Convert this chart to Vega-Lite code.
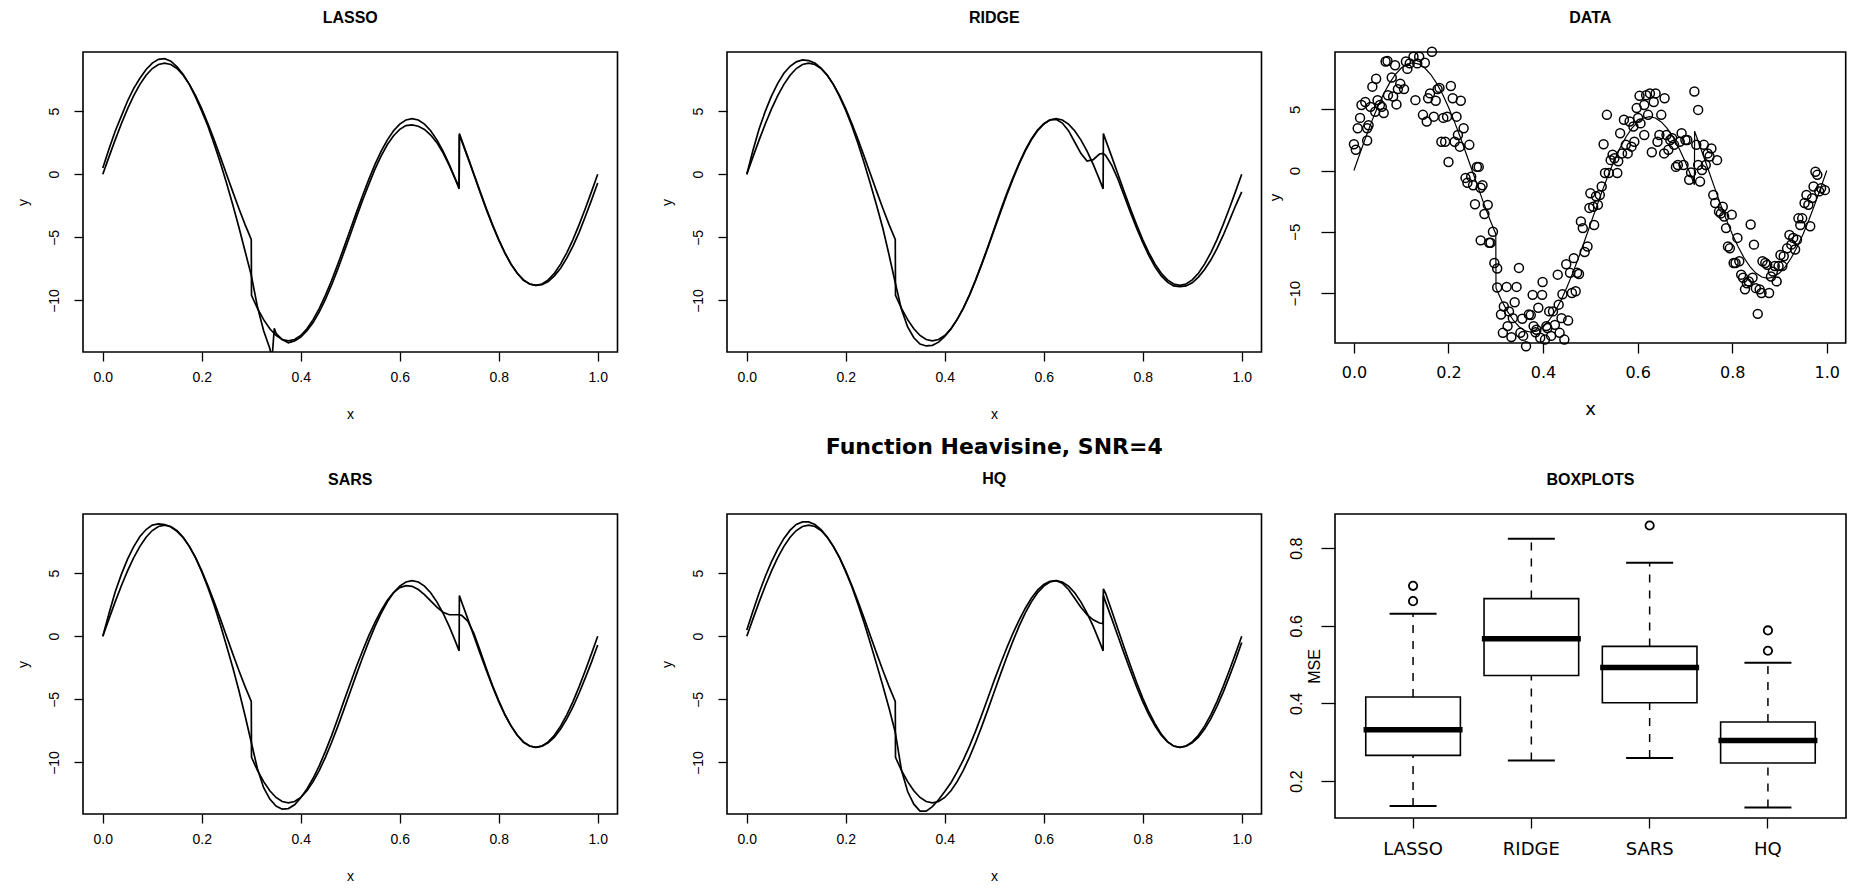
{
"$schema":"https://vega.github.io/schema/vega-lite/v6.json",
"background":"white",
"padding":{"left":15,"top":9,"right":0,"bottom":0},
"config":{
 "view":{"stroke":"black","strokeWidth":1.6},
 "axis":{"domain":false,"grid":false,"tickColor":"black","tickWidth":1.3,"labelColor":"black","titleColor":"black","labelFont":"Liberation Sans","titleFont":"Liberation Sans","titleFontWeight":"normal","labelFontSize":14,"titleFontSize":14,"labelFlush":false,"labelOverlap":false,"labelBound":false},
 "title":{"font":"Liberation Sans","fontSize":16,"fontWeight":"bold","color":"black","frame":"group","anchor":"middle","offset":26}
},
"datasets":{
"truth":[{"x":0,"y":0},{"x":0.0125,"y":1.376},{"x":0.025,"y":2.719},{"x":0.0375,"y":3.995},{"x":0.05,"y":5.173},{"x":0.0625,"y":6.223},{"x":0.075,"y":7.119},{"x":0.0875,"y":7.841},{"x":0.1,"y":8.37},{"x":0.1125,"y":8.692},{"x":0.125,"y":8.8},{"x":0.1375,"y":8.692},{"x":0.15,"y":8.37},{"x":0.1625,"y":7.841},{"x":0.175,"y":7.119},{"x":0.1875,"y":6.223},{"x":0.2,"y":5.173},{"x":0.2125,"y":3.995},{"x":0.225,"y":2.719},{"x":0.2375,"y":1.376},{"x":0.25,"y":0},{"x":0.2625,"y":-1.376},{"x":0.275,"y":-2.719},{"x":0.2875,"y":-3.995},{"x":0.3,"y":-5.173},{"x":0.3005,"y":-9.6},{"x":0.3125,"y":-10.623},{"x":0.325,"y":-11.519},{"x":0.3375,"y":-12.241},{"x":0.35,"y":-12.77},{"x":0.3625,"y":-13.092},{"x":0.375,"y":-13.2},{"x":0.3875,"y":-13.092},{"x":0.4,"y":-12.77},{"x":0.4125,"y":-12.241},{"x":0.425,"y":-11.519},{"x":0.4375,"y":-10.623},{"x":0.45,"y":-9.573},{"x":0.4625,"y":-8.395},{"x":0.475,"y":-7.119},{"x":0.4875,"y":-5.776},{"x":0.5,"y":-4.4},{"x":0.5125,"y":-3.024},{"x":0.525,"y":-1.681},{"x":0.5375,"y":-0.405},{"x":0.55,"y":0.773},{"x":0.5625,"y":1.823},{"x":0.575,"y":2.719},{"x":0.5875,"y":3.441},{"x":0.6,"y":3.97},{"x":0.6125,"y":4.292},{"x":0.625,"y":4.4},{"x":0.6375,"y":4.292},{"x":0.65,"y":3.97},{"x":0.6625,"y":3.441},{"x":0.675,"y":2.719},{"x":0.6875,"y":1.823},{"x":0.7,"y":0.773},{"x":0.7125,"y":-0.405},{"x":0.72,"y":-1.16},{"x":0.7205,"y":3.22},{"x":0.725,"y":2.719},{"x":0.7375,"y":1.376},{"x":0.75,"y":0},{"x":0.7625,"y":-1.376},{"x":0.775,"y":-2.719},{"x":0.7875,"y":-3.995},{"x":0.8,"y":-5.173},{"x":0.8125,"y":-6.223},{"x":0.825,"y":-7.119},{"x":0.8375,"y":-7.841},{"x":0.85,"y":-8.37},{"x":0.8625,"y":-8.692},{"x":0.875,"y":-8.8},{"x":0.8875,"y":-8.692},{"x":0.9,"y":-8.37},{"x":0.9125,"y":-7.841},{"x":0.925,"y":-7.119},{"x":0.9375,"y":-6.223},{"x":0.95,"y":-5.173},{"x":0.9625,"y":-3.995},{"x":0.975,"y":-2.719},{"x":0.9875,"y":-1.376},{"x":1,"y":0}],
"est":[
{"p":"LASSO","x":0,"y":0.5},{"p":"LASSO","x":0.0125,"y":2.0},{"p":"LASSO","x":0.025,"y":3.4},{"p":"LASSO","x":0.0375,"y":4.6},{"p":"LASSO","x":0.05,"y":5.8},{"p":"LASSO","x":0.0625,"y":6.8},{"p":"LASSO","x":0.075,"y":7.6},{"p":"LASSO","x":0.0875,"y":8.3},{"p":"LASSO","x":0.1,"y":8.8},{"p":"LASSO","x":0.1125,"y":9.1},{"p":"LASSO","x":0.125,"y":9.15},{"p":"LASSO","x":0.1375,"y":8.95},{"p":"LASSO","x":0.15,"y":8.5},{"p":"LASSO","x":0.1625,"y":7.9},{"p":"LASSO","x":0.175,"y":7.1},{"p":"LASSO","x":0.1875,"y":6.1},{"p":"LASSO","x":0.2,"y":5.0},{"p":"LASSO","x":0.2125,"y":3.8},{"p":"LASSO","x":0.225,"y":2.4},{"p":"LASSO","x":0.2375,"y":0.9},{"p":"LASSO","x":0.25,"y":-0.7},{"p":"LASSO","x":0.2625,"y":-2.4},{"p":"LASSO","x":0.275,"y":-4.2},{"p":"LASSO","x":0.2875,"y":-6.1},{"p":"LASSO","x":0.3,"y":-8.0},{"p":"LASSO","x":0.3125,"y":-10.5},{"p":"LASSO","x":0.325,"y":-12.4},{"p":"LASSO","x":0.3375,"y":-13.8},{"p":"LASSO","x":0.342,"y":-14.6},{"p":"LASSO","x":0.3465,"y":-12.2},{"p":"LASSO","x":0.35,"y":-12.6},{"p":"LASSO","x":0.3625,"y":-13.1},{"p":"LASSO","x":0.375,"y":-13.35},{"p":"LASSO","x":0.3875,"y":-13.2},{"p":"LASSO","x":0.4,"y":-12.9},{"p":"LASSO","x":0.4125,"y":-12.4},{"p":"LASSO","x":0.425,"y":-11.75},{"p":"LASSO","x":0.4375,"y":-10.9},{"p":"LASSO","x":0.45,"y":-9.9},{"p":"LASSO","x":0.4625,"y":-8.75},{"p":"LASSO","x":0.475,"y":-7.5},{"p":"LASSO","x":0.4875,"y":-6.15},{"p":"LASSO","x":0.5,"y":-4.8},{"p":"LASSO","x":0.5125,"y":-3.4},{"p":"LASSO","x":0.525,"y":-2.05},{"p":"LASSO","x":0.5375,"y":-0.8},{"p":"LASSO","x":0.55,"y":0.4},{"p":"LASSO","x":0.5625,"y":1.45},{"p":"LASSO","x":0.575,"y":2.35},{"p":"LASSO","x":0.5875,"y":3.05},{"p":"LASSO","x":0.6,"y":3.55},{"p":"LASSO","x":0.6125,"y":3.85},{"p":"LASSO","x":0.625,"y":3.9},{"p":"LASSO","x":0.6375,"y":3.8},{"p":"LASSO","x":0.65,"y":3.55},{"p":"LASSO","x":0.6625,"y":3.1},{"p":"LASSO","x":0.675,"y":2.5},{"p":"LASSO","x":0.6875,"y":1.7},{"p":"LASSO","x":0.7,"y":0.7},{"p":"LASSO","x":0.7125,"y":-0.4},{"p":"LASSO","x":0.72,"y":-1.0},{"p":"LASSO","x":0.7205,"y":3.1},{"p":"LASSO","x":0.725,"y":2.65},{"p":"LASSO","x":0.7375,"y":1.3},{"p":"LASSO","x":0.75,"y":-0.05},{"p":"LASSO","x":0.7625,"y":-1.45},{"p":"LASSO","x":0.775,"y":-2.8},{"p":"LASSO","x":0.7875,"y":-4.05},{"p":"LASSO","x":0.8,"y":-5.2},{"p":"LASSO","x":0.8125,"y":-6.25},{"p":"LASSO","x":0.825,"y":-7.15},{"p":"LASSO","x":0.8375,"y":-7.85},{"p":"LASSO","x":0.85,"y":-8.4},{"p":"LASSO","x":0.8625,"y":-8.7},{"p":"LASSO","x":0.875,"y":-8.8},{"p":"LASSO","x":0.8875,"y":-8.75},{"p":"LASSO","x":0.9,"y":-8.5},{"p":"LASSO","x":0.9125,"y":-8.05},{"p":"LASSO","x":0.925,"y":-7.45},{"p":"LASSO","x":0.9375,"y":-6.65},{"p":"LASSO","x":0.95,"y":-5.7},{"p":"LASSO","x":0.9625,"y":-4.6},{"p":"LASSO","x":0.975,"y":-3.35},{"p":"LASSO","x":0.9875,"y":-2.05},{"p":"LASSO","x":1,"y":-0.7},
{"p":"RIDGE","x":0,"y":0.0},{"p":"RIDGE","x":0.0125,"y":1.9},{"p":"RIDGE","x":0.025,"y":3.6},{"p":"RIDGE","x":0.0375,"y":5.0},{"p":"RIDGE","x":0.05,"y":6.2},{"p":"RIDGE","x":0.0625,"y":7.2},{"p":"RIDGE","x":0.075,"y":8.0},{"p":"RIDGE","x":0.0875,"y":8.55},{"p":"RIDGE","x":0.1,"y":8.9},{"p":"RIDGE","x":0.1125,"y":9.05},{"p":"RIDGE","x":0.125,"y":9.0},{"p":"RIDGE","x":0.1375,"y":8.8},{"p":"RIDGE","x":0.15,"y":8.4},{"p":"RIDGE","x":0.1625,"y":7.85},{"p":"RIDGE","x":0.175,"y":7.1},{"p":"RIDGE","x":0.1875,"y":6.15},{"p":"RIDGE","x":0.2,"y":5.05},{"p":"RIDGE","x":0.2125,"y":3.8},{"p":"RIDGE","x":0.225,"y":2.4},{"p":"RIDGE","x":0.2375,"y":0.85},{"p":"RIDGE","x":0.25,"y":-0.8},{"p":"RIDGE","x":0.2625,"y":-2.5},{"p":"RIDGE","x":0.275,"y":-4.3},{"p":"RIDGE","x":0.2875,"y":-6.4},{"p":"RIDGE","x":0.3,"y":-8.6},{"p":"RIDGE","x":0.3125,"y":-10.7},{"p":"RIDGE","x":0.325,"y":-12.1},{"p":"RIDGE","x":0.3375,"y":-12.95},{"p":"RIDGE","x":0.35,"y":-13.45},{"p":"RIDGE","x":0.3625,"y":-13.6},{"p":"RIDGE","x":0.375,"y":-13.55},{"p":"RIDGE","x":0.3875,"y":-13.3},{"p":"RIDGE","x":0.4,"y":-12.85},{"p":"RIDGE","x":0.4125,"y":-12.25},{"p":"RIDGE","x":0.425,"y":-11.5},{"p":"RIDGE","x":0.4375,"y":-10.6},{"p":"RIDGE","x":0.45,"y":-9.55},{"p":"RIDGE","x":0.4625,"y":-8.35},{"p":"RIDGE","x":0.475,"y":-7.05},{"p":"RIDGE","x":0.4875,"y":-5.7},{"p":"RIDGE","x":0.5,"y":-4.3},{"p":"RIDGE","x":0.5125,"y":-2.9},{"p":"RIDGE","x":0.525,"y":-1.55},{"p":"RIDGE","x":0.5375,"y":-0.3},{"p":"RIDGE","x":0.55,"y":0.85},{"p":"RIDGE","x":0.5625,"y":1.9},{"p":"RIDGE","x":0.575,"y":2.8},{"p":"RIDGE","x":0.5875,"y":3.5},{"p":"RIDGE","x":0.6,"y":4.0},{"p":"RIDGE","x":0.6125,"y":4.3},{"p":"RIDGE","x":0.625,"y":4.35},{"p":"RIDGE","x":0.6375,"y":4.05},{"p":"RIDGE","x":0.65,"y":3.45},{"p":"RIDGE","x":0.6625,"y":2.55},{"p":"RIDGE","x":0.675,"y":1.65},{"p":"RIDGE","x":0.6875,"y":1.05},{"p":"RIDGE","x":0.7,"y":1.15},{"p":"RIDGE","x":0.7125,"y":1.6},{"p":"RIDGE","x":0.72,"y":1.65},{"p":"RIDGE","x":0.725,"y":1.5},{"p":"RIDGE","x":0.7375,"y":0.7},{"p":"RIDGE","x":0.75,"y":-0.4},{"p":"RIDGE","x":0.7625,"y":-1.7},{"p":"RIDGE","x":0.775,"y":-3.0},{"p":"RIDGE","x":0.7875,"y":-4.25},{"p":"RIDGE","x":0.8,"y":-5.4},{"p":"RIDGE","x":0.8125,"y":-6.45},{"p":"RIDGE","x":0.825,"y":-7.35},{"p":"RIDGE","x":0.8375,"y":-8.05},{"p":"RIDGE","x":0.85,"y":-8.55},{"p":"RIDGE","x":0.8625,"y":-8.85},{"p":"RIDGE","x":0.875,"y":-8.9},{"p":"RIDGE","x":0.8875,"y":-8.85},{"p":"RIDGE","x":0.9,"y":-8.6},{"p":"RIDGE","x":0.9125,"y":-8.15},{"p":"RIDGE","x":0.925,"y":-7.55},{"p":"RIDGE","x":0.9375,"y":-6.8},{"p":"RIDGE","x":0.95,"y":-5.9},{"p":"RIDGE","x":0.9625,"y":-4.85},{"p":"RIDGE","x":0.975,"y":-3.7},{"p":"RIDGE","x":0.9875,"y":-2.5},{"p":"RIDGE","x":1,"y":-1.4},
{"p":"SARS","x":0,"y":0.0},{"p":"SARS","x":0.0125,"y":1.8},{"p":"SARS","x":0.025,"y":3.5},{"p":"SARS","x":0.0375,"y":4.9},{"p":"SARS","x":0.05,"y":6.1},{"p":"SARS","x":0.0625,"y":7.1},{"p":"SARS","x":0.075,"y":7.9},{"p":"SARS","x":0.0875,"y":8.45},{"p":"SARS","x":0.1,"y":8.8},{"p":"SARS","x":0.1125,"y":8.9},{"p":"SARS","x":0.125,"y":8.85},{"p":"SARS","x":0.1375,"y":8.65},{"p":"SARS","x":0.15,"y":8.3},{"p":"SARS","x":0.1625,"y":7.8},{"p":"SARS","x":0.175,"y":7.1},{"p":"SARS","x":0.1875,"y":6.2},{"p":"SARS","x":0.2,"y":5.1},{"p":"SARS","x":0.2125,"y":3.85},{"p":"SARS","x":0.225,"y":2.45},{"p":"SARS","x":0.2375,"y":0.9},{"p":"SARS","x":0.25,"y":-0.75},{"p":"SARS","x":0.2625,"y":-2.45},{"p":"SARS","x":0.275,"y":-4.3},{"p":"SARS","x":0.2875,"y":-6.3},{"p":"SARS","x":0.3,"y":-8.4},{"p":"SARS","x":0.3125,"y":-10.5},{"p":"SARS","x":0.325,"y":-12.0},{"p":"SARS","x":0.3375,"y":-12.9},{"p":"SARS","x":0.35,"y":-13.45},{"p":"SARS","x":0.3625,"y":-13.7},{"p":"SARS","x":0.375,"y":-13.65},{"p":"SARS","x":0.3875,"y":-13.35},{"p":"SARS","x":0.4,"y":-12.8},{"p":"SARS","x":0.4125,"y":-12.1},{"p":"SARS","x":0.425,"y":-11.25},{"p":"SARS","x":0.4375,"y":-10.25},{"p":"SARS","x":0.45,"y":-9.1},{"p":"SARS","x":0.4625,"y":-7.85},{"p":"SARS","x":0.475,"y":-6.5},{"p":"SARS","x":0.4875,"y":-5.1},{"p":"SARS","x":0.5,"y":-3.75},{"p":"SARS","x":0.5125,"y":-2.4},{"p":"SARS","x":0.525,"y":-1.15},{"p":"SARS","x":0.5375,"y":0.05},{"p":"SARS","x":0.55,"y":1.1},{"p":"SARS","x":0.5625,"y":2.05},{"p":"SARS","x":0.575,"y":2.85},{"p":"SARS","x":0.5875,"y":3.45},{"p":"SARS","x":0.6,"y":3.85},{"p":"SARS","x":0.6125,"y":4.0},{"p":"SARS","x":0.625,"y":3.95},{"p":"SARS","x":0.6375,"y":3.7},{"p":"SARS","x":0.65,"y":3.3},{"p":"SARS","x":0.6625,"y":2.8},{"p":"SARS","x":0.675,"y":2.3},{"p":"SARS","x":0.6875,"y":1.9},{"p":"SARS","x":0.7,"y":1.7},{"p":"SARS","x":0.7125,"y":1.7},{"p":"SARS","x":0.72,"y":1.7},{"p":"SARS","x":0.725,"y":1.65},{"p":"SARS","x":0.7375,"y":1.2},{"p":"SARS","x":0.75,"y":0.2},{"p":"SARS","x":0.7625,"y":-1.15},{"p":"SARS","x":0.775,"y":-2.55},{"p":"SARS","x":0.7875,"y":-3.9},{"p":"SARS","x":0.8,"y":-5.1},{"p":"SARS","x":0.8125,"y":-6.2},{"p":"SARS","x":0.825,"y":-7.1},{"p":"SARS","x":0.8375,"y":-7.85},{"p":"SARS","x":0.85,"y":-8.4},{"p":"SARS","x":0.8625,"y":-8.7},{"p":"SARS","x":0.875,"y":-8.8},{"p":"SARS","x":0.8875,"y":-8.7},{"p":"SARS","x":0.9,"y":-8.45},{"p":"SARS","x":0.9125,"y":-8.0},{"p":"SARS","x":0.925,"y":-7.35},{"p":"SARS","x":0.9375,"y":-6.55},{"p":"SARS","x":0.95,"y":-5.6},{"p":"SARS","x":0.9625,"y":-4.5},{"p":"SARS","x":0.975,"y":-3.3},{"p":"SARS","x":0.9875,"y":-2.05},{"p":"SARS","x":1,"y":-0.7},
{"p":"HQ","x":0,"y":0.5},{"p":"HQ","x":0.0125,"y":2.0},{"p":"HQ","x":0.025,"y":3.45},{"p":"HQ","x":0.0375,"y":4.75},{"p":"HQ","x":0.05,"y":5.9},{"p":"HQ","x":0.0625,"y":6.9},{"p":"HQ","x":0.075,"y":7.75},{"p":"HQ","x":0.0875,"y":8.4},{"p":"HQ","x":0.1,"y":8.85},{"p":"HQ","x":0.1125,"y":9.05},{"p":"HQ","x":0.125,"y":9.05},{"p":"HQ","x":0.1375,"y":8.85},{"p":"HQ","x":0.15,"y":8.45},{"p":"HQ","x":0.1625,"y":7.85},{"p":"HQ","x":0.175,"y":7.1},{"p":"HQ","x":0.1875,"y":6.2},{"p":"HQ","x":0.2,"y":5.1},{"p":"HQ","x":0.2125,"y":3.9},{"p":"HQ","x":0.225,"y":2.5},{"p":"HQ","x":0.2375,"y":1.0},{"p":"HQ","x":0.25,"y":-0.6},{"p":"HQ","x":0.2625,"y":-2.25},{"p":"HQ","x":0.275,"y":-3.95},{"p":"HQ","x":0.2875,"y":-5.7},{"p":"HQ","x":0.3,"y":-7.6},{"p":"HQ","x":0.3125,"y":-10.6},{"p":"HQ","x":0.325,"y":-12.3},{"p":"HQ","x":0.3375,"y":-13.3},{"p":"HQ","x":0.35,"y":-13.85},{"p":"HQ","x":0.3625,"y":-13.85},{"p":"HQ","x":0.375,"y":-13.5},{"p":"HQ","x":0.3875,"y":-12.95},{"p":"HQ","x":0.4,"y":-12.3},{"p":"HQ","x":0.4125,"y":-11.6},{"p":"HQ","x":0.425,"y":-10.75},{"p":"HQ","x":0.4375,"y":-9.8},{"p":"HQ","x":0.45,"y":-8.7},{"p":"HQ","x":0.4625,"y":-7.5},{"p":"HQ","x":0.475,"y":-6.2},{"p":"HQ","x":0.4875,"y":-4.85},{"p":"HQ","x":0.5,"y":-3.5},{"p":"HQ","x":0.5125,"y":-2.2},{"p":"HQ","x":0.525,"y":-0.95},{"p":"HQ","x":0.5375,"y":0.2},{"p":"HQ","x":0.55,"y":1.25},{"p":"HQ","x":0.5625,"y":2.2},{"p":"HQ","x":0.575,"y":3.0},{"p":"HQ","x":0.5875,"y":3.65},{"p":"HQ","x":0.6,"y":4.1},{"p":"HQ","x":0.6125,"y":4.35},{"p":"HQ","x":0.625,"y":4.4},{"p":"HQ","x":0.6375,"y":4.2},{"p":"HQ","x":0.65,"y":3.7},{"p":"HQ","x":0.6625,"y":3.0},{"p":"HQ","x":0.675,"y":2.3},{"p":"HQ","x":0.6875,"y":1.7},{"p":"HQ","x":0.7,"y":1.3},{"p":"HQ","x":0.7125,"y":1.05},{"p":"HQ","x":0.72,"y":1.0},{"p":"HQ","x":0.7205,"y":3.75},{"p":"HQ","x":0.725,"y":3.4},{"p":"HQ","x":0.7375,"y":2.0},{"p":"HQ","x":0.75,"y":0.55},{"p":"HQ","x":0.7625,"y":-0.9},{"p":"HQ","x":0.775,"y":-2.3},{"p":"HQ","x":0.7875,"y":-3.65},{"p":"HQ","x":0.8,"y":-4.9},{"p":"HQ","x":0.8125,"y":-6.0},{"p":"HQ","x":0.825,"y":-6.95},{"p":"HQ","x":0.8375,"y":-7.75},{"p":"HQ","x":0.85,"y":-8.35},{"p":"HQ","x":0.8625,"y":-8.7},{"p":"HQ","x":0.875,"y":-8.8},{"p":"HQ","x":0.8875,"y":-8.7},{"p":"HQ","x":0.9,"y":-8.45},{"p":"HQ","x":0.9125,"y":-8.0},{"p":"HQ","x":0.925,"y":-7.35},{"p":"HQ","x":0.9375,"y":-6.55},{"p":"HQ","x":0.95,"y":-5.55},{"p":"HQ","x":0.9625,"y":-4.45},{"p":"HQ","x":0.975,"y":-3.2},{"p":"HQ","x":0.9875,"y":-1.9},{"p":"HQ","x":1,"y":-0.5}
],
"pts":[{"x":0,"y":2.15},{"x":0.004,"y":1.7},{"x":0.008,"y":3.45},{"x":0.013,"y":4.3},{"x":0.016,"y":5.35},{"x":0.024,"y":5.6},{"x":0.028,"y":2.45},{"x":0.028,"y":3.45},{"x":0.031,"y":3.7},{"x":0.035,"y":5.2},{"x":0.039,"y":6.85},{"x":0.045,"y":4.8},{"x":0.047,"y":7.5},{"x":0.05,"y":5.75},{"x":0.055,"y":5.35},{"x":0.059,"y":5.2},{"x":0.063,"y":4.7},{"x":0.067,"y":8.9},{"x":0.071,"y":8.95},{"x":0.072,"y":6.15},{"x":0.08,"y":7.6},{"x":0.083,"y":6.05},{"x":0.087,"y":8.6},{"x":0.09,"y":5.4},{"x":0.093,"y":6.65},{"x":0.098,"y":7.1},{"x":0.106,"y":6.65},{"x":0.11,"y":8.9},{"x":0.113,"y":8.3},{"x":0.118,"y":8.75},{"x":0.126,"y":9.3},{"x":0.13,"y":5.75},{"x":0.134,"y":8.75},{"x":0.138,"y":9.3},{"x":0.146,"y":4.55},{"x":0.15,"y":8.8},{"x":0.154,"y":4.0},{"x":0.157,"y":5.9},{"x":0.161,"y":6.3},{"x":0.165,"y":9.7},{"x":0.169,"y":4.4},{"x":0.173,"y":5.7},{"x":0.177,"y":6.65},{"x":0.181,"y":6.75},{"x":0.185,"y":2.35},{"x":0.189,"y":4.3},{"x":0.193,"y":2.35},{"x":0.197,"y":4.4},{"x":0.2,"y":0.7},{"x":0.205,"y":6.9},{"x":0.209,"y":5.9},{"x":0.213,"y":2.35},{"x":0.217,"y":4.4},{"x":0.22,"y":2.9},{"x":0.224,"y":1.95},{"x":0.226,"y":5.7},{"x":0.232,"y":3.45},{"x":0.236,"y":-0.6},{"x":0.24,"y":-1.0},{"x":0.244,"y":2.1},{"x":0.248,"y":-0.5},{"x":0.252,"y":-1.2},{"x":0.256,"y":-2.75},{"x":0.26,"y":0.3},{"x":0.264,"y":0.3},{"x":0.268,"y":-1.4},{"x":0.272,"y":-1.2},{"x":0.268,"y":-5.7},{"x":0.276,"y":-3.55},{"x":0.283,"y":-2.8},{"x":0.286,"y":-5.9},{"x":0.289,"y":-5.9},{"x":0.294,"y":-5.0},{"x":0.297,"y":-7.55},{"x":0.303,"y":-8.0},{"x":0.303,"y":-9.55},{"x":0.311,"y":-11.75},{"x":0.315,"y":-13.25},{"x":0.317,"y":-11.1},{"x":0.323,"y":-9.5},{"x":0.325,"y":-12.7},{"x":0.328,"y":-11.5},{"x":0.333,"y":-13.6},{"x":0.336,"y":-12.05},{"x":0.34,"y":-10.75},{"x":0.344,"y":-9.5},{"x":0.349,"y":-7.95},{"x":0.352,"y":-13.25},{"x":0.356,"y":-12.1},{"x":0.358,"y":-13.5},{"x":0.364,"y":-14.35},{"x":0.37,"y":-11.75},{"x":0.374,"y":-11.8},{"x":0.378,"y":-10.15},{"x":0.38,"y":-12.7},{"x":0.384,"y":-13.2},{"x":0.386,"y":-13.0},{"x":0.39,"y":-11.2},{"x":0.394,"y":-13.65},{"x":0.398,"y":-10.15},{"x":0.399,"y":-9.1},{"x":0.404,"y":-13.8},{"x":0.407,"y":-12.7},{"x":0.409,"y":-12.85},{"x":0.413,"y":-11.5},{"x":0.417,"y":-13.5},{"x":0.421,"y":-11.5},{"x":0.425,"y":-12.6},{"x":0.431,"y":-8.5},{"x":0.433,"y":-10.95},{"x":0.435,"y":-13.25},{"x":0.439,"y":-12.05},{"x":0.441,"y":-10.1},{"x":0.445,"y":-13.8},{"x":0.449,"y":-7.65},{"x":0.453,"y":-12.25},{"x":0.457,"y":-8.35},{"x":0.461,"y":-10.0},{"x":0.465,"y":-7.15},{"x":0.469,"y":-9.85},{"x":0.472,"y":-8.35},{"x":0.476,"y":-8.45},{"x":0.48,"y":-4.15},{"x":0.484,"y":-4.7},{"x":0.488,"y":-6.65},{"x":0.494,"y":-6.2},{"x":0.498,"y":-3.05},{"x":0.5,"y":-1.85},{"x":0.506,"y":-2.95},{"x":0.508,"y":-4.45},{"x":0.512,"y":-2.1},{"x":0.516,"y":-2.8},{"x":0.52,"y":-2.0},{"x":0.524,"y":-1.3},{"x":0.528,"y":2.15},{"x":0.531,"y":-0.2},{"x":0.535,"y":4.55},{"x":0.539,"y":-0.2},{"x":0.543,"y":0.85},{"x":0.547,"y":1.3},{"x":0.551,"y":1.0},{"x":0.557,"y":-0.2},{"x":0.559,"y":0.75},{"x":0.563,"y":3.05},{"x":0.567,"y":1.4},{"x":0.571,"y":4.15},{"x":0.575,"y":2.1},{"x":0.579,"y":1.4},{"x":0.583,"y":4.0},{"x":0.587,"y":1.95},{"x":0.591,"y":3.6},{"x":0.593,"y":2.35},{"x":0.598,"y":5.1},{"x":0.601,"y":4.3},{"x":0.604,"y":6.1},{"x":0.606,"y":3.85},{"x":0.614,"y":2.9},{"x":0.614,"y":5.35},{"x":0.618,"y":6.15},{"x":0.622,"y":4.55},{"x":0.626,"y":6.3},{"x":0.63,"y":1.5},{"x":0.634,"y":5.6},{"x":0.638,"y":6.3},{"x":0.642,"y":2.35},{"x":0.646,"y":2.9},{"x":0.65,"y":4.55},{"x":0.656,"y":1.4},{"x":0.657,"y":5.9},{"x":0.661,"y":2.9},{"x":0.665,"y":1.7},{"x":0.669,"y":2.5},{"x":0.673,"y":2.65},{"x":0.677,"y":2.1},{"x":0.681,"y":0.3},{"x":0.685,"y":0.45},{"x":0.689,"y":2.35},{"x":0.693,"y":3.05},{"x":0.697,"y":0.45},{"x":0.701,"y":2.5},{"x":0.705,"y":2.5},{"x":0.709,"y":-0.75},{"x":0.713,"y":-0.15},{"x":0.72,"y":6.45},{"x":0.724,"y":2.1},{"x":0.728,"y":4.95},{"x":0.728,"y":0.45},{"x":0.732,"y":-0.9},{"x":0.736,"y":0.05},{"x":0.74,"y":2.1},{"x":0.744,"y":0.45},{"x":0.748,"y":1.4},{"x":0.752,"y":1.15},{"x":0.756,"y":1.8},{"x":0.76,"y":-2.0},{"x":0.764,"y":-2.65},{"x":0.768,"y":0.85},{"x":0.772,"y":-3.35},{"x":0.776,"y":-3.5},{"x":0.78,"y":-2.95},{"x":0.783,"y":-3.75},{"x":0.787,"y":-4.7},{"x":0.791,"y":-6.2},{"x":0.795,"y":-6.35},{"x":0.799,"y":-3.6},{"x":0.803,"y":-7.55},{"x":0.807,"y":-7.55},{"x":0.811,"y":-5.5},{"x":0.815,"y":-7.4},{"x":0.819,"y":-8.5},{"x":0.823,"y":-8.75},{"x":0.827,"y":-9.7},{"x":0.831,"y":-9.2},{"x":0.835,"y":-9.05},{"x":0.839,"y":-4.4},{"x":0.843,"y":-8.75},{"x":0.846,"y":-6.05},{"x":0.85,"y":-9.6},{"x":0.854,"y":-11.7},{"x":0.858,"y":-9.7},{"x":0.862,"y":-10.0},{"x":0.864,"y":-7.4},{"x":0.87,"y":-7.55},{"x":0.874,"y":-7.7},{"x":0.878,"y":-10.0},{"x":0.882,"y":-8.65},{"x":0.886,"y":-8.25},{"x":0.89,"y":-7.8},{"x":0.894,"y":-9.05},{"x":0.898,"y":-7.8},{"x":0.902,"y":-6.9},{"x":0.906,"y":-7.8},{"x":0.909,"y":-7.0},{"x":0.916,"y":-6.35},{"x":0.921,"y":-5.25},{"x":0.925,"y":-6.05},{"x":0.929,"y":-5.5},{"x":0.933,"y":-6.45},{"x":0.937,"y":-5.65},{"x":0.94,"y":-3.9},{"x":0.944,"y":-4.45},{"x":0.948,"y":-3.9},{"x":0.953,"y":-2.65},{"x":0.957,"y":-2.0},{"x":0.961,"y":-2.8},{"x":0.965,"y":-4.55},{"x":0.969,"y":-2.25},{"x":0.972,"y":-1.3},{"x":0.976,"y":-0.1},{"x":0.98,"y":-0.35},{"x":0.984,"y":-1.7},{"x":0.988,"y":-1.45},{"x":0.996,"y":-1.6}],
"box":[{"m":"LASSO","lo":0.1356,"q1":0.266,"med":0.332,"q3":0.4163,"hi":0.631},{"m":"RIDGE","lo":0.253,"q1":0.472,"med":0.5667,"q3":0.67,"hi":0.824},{"m":"SARS","lo":0.259,"q1":0.4017,"med":0.4927,"q3":0.5468,"hi":0.7622},{"m":"HQ","lo":0.132,"q1":0.2464,"med":0.3047,"q3":0.352,"hi":0.505}],
"out":[{"m":"LASSO","v":0.6635},{"m":"LASSO","v":0.703},{"m":"SARS","v":0.8584},{"m":"HQ","v":0.5356},{"m":"HQ","v":0.588}],
"none":[]
},
"columns":5,
"align":"none",
"bounds":"flush",
"spacing":{"row":162,"column":0},
"concat":[
 {"width":534.5,"height":300,"title":"LASSO",
  "encoding":{"x":{"field":"x","type":"quantitative","scale":{"domain":[-0.04,1.04],"nice":false,"zero":false},"axis":{"values":[0,0.2,0.4,0.6,0.8,1],"format":".1f","tickSize":9,"labelPadding":9,"title":"x","titleX":267,"titleY":62,"titleBaseline":"middle","titleAlign":"center"}},
    "y":{"field":"y","type":"quantitative","scale":{"domain":[-14.08,9.68],"nice":false,"zero":false},"axis":{"values":[-10,-5,0,5],"tickSize":9,"labelPadding":13,"labelAngle":270,"labelAlign":"center","labelBaseline":"bottom","title":"y","titleX":-60,"titleY":150,"titleAngle":270,"titleBaseline":"middle","titleAlign":"center"}}},
  "layer":[{"data":{"name":"truth"},"mark":{"type":"line","color":"black","strokeWidth":1.7,"clip":true}},
           {"data":{"name":"est"},"transform":[{"filter":"datum.p==='LASSO'"}],"mark":{"type":"line","color":"black","strokeWidth":1.7,"clip":true}}]},
 {"width":108.5,"height":10,"view":{"stroke":null},"data":{"name":"none"},"mark":{"type":"point"},"encoding":{}},
 {"width":534.5,"height":300,"title":"RIDGE",
  "encoding":{"x":{"field":"x","type":"quantitative","scale":{"domain":[-0.04,1.04],"nice":false,"zero":false},"axis":{"values":[0,0.2,0.4,0.6,0.8,1],"format":".1f","tickSize":9,"labelPadding":9,"title":"x","titleX":267,"titleY":62,"titleBaseline":"middle","titleAlign":"center"}},
    "y":{"field":"y","type":"quantitative","scale":{"domain":[-14.08,9.68],"nice":false,"zero":false},"axis":{"values":[-10,-5,0,5],"tickSize":9,"labelPadding":13,"labelAngle":270,"labelAlign":"center","labelBaseline":"bottom","title":"y","titleX":-60,"titleY":150,"titleAngle":270,"titleBaseline":"middle","titleAlign":"center"}}},
  "layer":[{"data":{"name":"truth"},"mark":{"type":"line","color":"black","strokeWidth":1.7,"clip":true}},
           {"data":{"name":"est"},"transform":[{"filter":"datum.p==='RIDGE'"}],"mark":{"type":"line","color":"black","strokeWidth":1.7,"clip":true}}]},
 {"width":67.6,"height":10,"view":{"stroke":null},"data":{"name":"none"},"mark":{"type":"point"},"encoding":{}},
 {"width":510.7,"height":291,"title":{"text":"DATA","offset":18},
  "encoding":{"x":{"field":"x","type":"quantitative","scale":{"domain":[-0.04,1.04],"nice":false,"zero":false},"axis":{"values":[0,0.2,0.4,0.6,0.8,1],"format":".1f","tickSize":10,"labelPadding":11,"labelFont":"DejaVu Sans","labelFontSize":16,"title":"x","titleFont":"DejaVu Sans","titleFontSize":18,"titleX":255,"titleY":66,"titleBaseline":"middle","titleAlign":"center"}},
    "y":{"field":"y","type":"quantitative","scale":{"domain":[-14.08,9.68],"nice":false,"zero":false},"axis":{"values":[-10,-5,0,5],"tickSize":14,"labelPadding":19,"labelFontSize":15,"labelAngle":270,"labelAlign":"center","labelBaseline":"bottom","title":"y","titleFontSize":15,"titleX":-61,"titleY":145,"titleAngle":270,"titleBaseline":"middle","titleAlign":"center"}}},
  "layer":[{"data":{"name":"pts"},"mark":{"type":"point","shape":"circle","filled":false,"color":"black","strokeWidth":1.5,"size":80,"opacity":1}},
           {"data":{"name":"truth"},"mark":{"type":"line","color":"black","strokeWidth":1.2,"clip":true}}]},
 {"width":534.5,"height":300,"title":"SARS",
  "encoding":{"x":{"field":"x","type":"quantitative","scale":{"domain":[-0.04,1.04],"nice":false,"zero":false},"axis":{"values":[0,0.2,0.4,0.6,0.8,1],"format":".1f","tickSize":9,"labelPadding":9,"title":"x","titleX":267,"titleY":62,"titleBaseline":"middle","titleAlign":"center"}},
    "y":{"field":"y","type":"quantitative","scale":{"domain":[-14.08,9.68],"nice":false,"zero":false},"axis":{"values":[-10,-5,0,5],"tickSize":9,"labelPadding":13,"labelAngle":270,"labelAlign":"center","labelBaseline":"bottom","title":"y","titleX":-60,"titleY":150,"titleAngle":270,"titleBaseline":"middle","titleAlign":"center"}}},
  "layer":[{"data":{"name":"truth"},"mark":{"type":"line","color":"black","strokeWidth":1.7,"clip":true}},
           {"data":{"name":"est"},"transform":[{"filter":"datum.p==='SARS'"}],"mark":{"type":"line","color":"black","strokeWidth":1.7,"clip":true}}]},
 {"width":108.5,"height":10,"view":{"stroke":null},"data":{"name":"none"},"mark":{"type":"point"},"encoding":{}},
 {"width":534.5,"height":300,
  "title":{"text":"Function Heavisine, SNR=4","subtitle":"HQ","font":"DejaVu Sans","fontSize":22,"fontWeight":"bold","subtitleFont":"Liberation Sans","subtitleFontSize":16,"subtitleFontWeight":"bold","subtitleColor":"black","subtitlePadding":12.5},
  "encoding":{"x":{"field":"x","type":"quantitative","scale":{"domain":[-0.04,1.04],"nice":false,"zero":false},"axis":{"values":[0,0.2,0.4,0.6,0.8,1],"format":".1f","tickSize":9,"labelPadding":9,"title":"x","titleX":267,"titleY":62,"titleBaseline":"middle","titleAlign":"center"}},
    "y":{"field":"y","type":"quantitative","scale":{"domain":[-14.08,9.68],"nice":false,"zero":false},"axis":{"values":[-10,-5,0,5],"tickSize":9,"labelPadding":13,"labelAngle":270,"labelAlign":"center","labelBaseline":"bottom","title":"y","titleX":-60,"titleY":150,"titleAngle":270,"titleBaseline":"middle","titleAlign":"center"}}},
  "layer":[{"data":{"name":"truth"},"mark":{"type":"line","color":"black","strokeWidth":1.7,"clip":true}},
           {"data":{"name":"est"},"transform":[{"filter":"datum.p==='HQ'"}],"mark":{"type":"line","color":"black","strokeWidth":1.7,"clip":true}}]},
 {"width":72.6,"height":10,"view":{"stroke":null},"data":{"name":"none"},"mark":{"type":"point"},"encoding":{}},
 {"width":511,"height":304,"title":"BOXPLOTS",
  "encoding":{"x":{"field":"m","type":"nominal","sort":null,"scale":{"type":"band","domain":["LASSO","RIDGE","SARS","HQ"],"paddingInner":0.2,"paddingOuter":0.26},"axis":{"labelAngle":0,"tickSize":10,"labelPadding":12,"labelFont":"DejaVu Sans","labelFontSize":18,"title":null}}},
  "layer":[
   {"data":{"name":"box"},"mark":{"type":"rule","color":"black","strokeWidth":1.5,"strokeDash":[8,8]},
    "encoding":{"y":{"field":"lo","type":"quantitative","scale":{"domain":[0.1047,0.888],"nice":false,"zero":false},"axis":{"values":[0.2,0.4,0.6,0.8],"format":".1f","tickSize":14,"labelPadding":17,"labelFontSize":16,"labelAngle":270,"labelAlign":"center","labelBaseline":"bottom","title":"MSE","titleFontSize":16,"titleX":-21,"titleY":152,"titleAngle":270,"titleBaseline":"middle","titleAlign":"center"}},"y2":{"field":"q1"}}},
   {"data":{"name":"box"},"mark":{"type":"rule","color":"black","strokeWidth":1.5,"strokeDash":[8,8]},
    "encoding":{"y":{"field":"q3","type":"quantitative","scale":{"domain":[0.1047,0.888],"nice":false,"zero":false}},"y2":{"field":"hi"}}},
   {"data":{"name":"box"},"mark":{"type":"bar","fill":"white","stroke":"black","strokeWidth":1.6},
    "encoding":{"y":{"field":"q1","type":"quantitative","scale":{"domain":[0.1047,0.888],"nice":false,"zero":false}},"y2":{"field":"q3"}}},
   {"data":{"name":"box"},"mark":{"type":"tick","color":"black","thickness":5.5,"size":99,"opacity":1},
    "encoding":{"y":{"field":"med","type":"quantitative","scale":{"domain":[0.1047,0.888],"nice":false,"zero":false}}}},
   {"data":{"name":"box"},"mark":{"type":"tick","color":"black","thickness":2,"size":47,"opacity":1},
    "encoding":{"y":{"field":"lo","type":"quantitative","scale":{"domain":[0.1047,0.888],"nice":false,"zero":false}}}},
   {"data":{"name":"box"},"mark":{"type":"tick","color":"black","thickness":2,"size":47,"opacity":1},
    "encoding":{"y":{"field":"hi","type":"quantitative","scale":{"domain":[0.1047,0.888],"nice":false,"zero":false}}}},
   {"data":{"name":"out"},"mark":{"type":"point","shape":"circle","filled":false,"color":"black","strokeWidth":1.8,"size":70,"opacity":1},
    "encoding":{"y":{"field":"v","type":"quantitative","scale":{"domain":[0.1047,0.888],"nice":false,"zero":false}}}}
  ]}
]
}
